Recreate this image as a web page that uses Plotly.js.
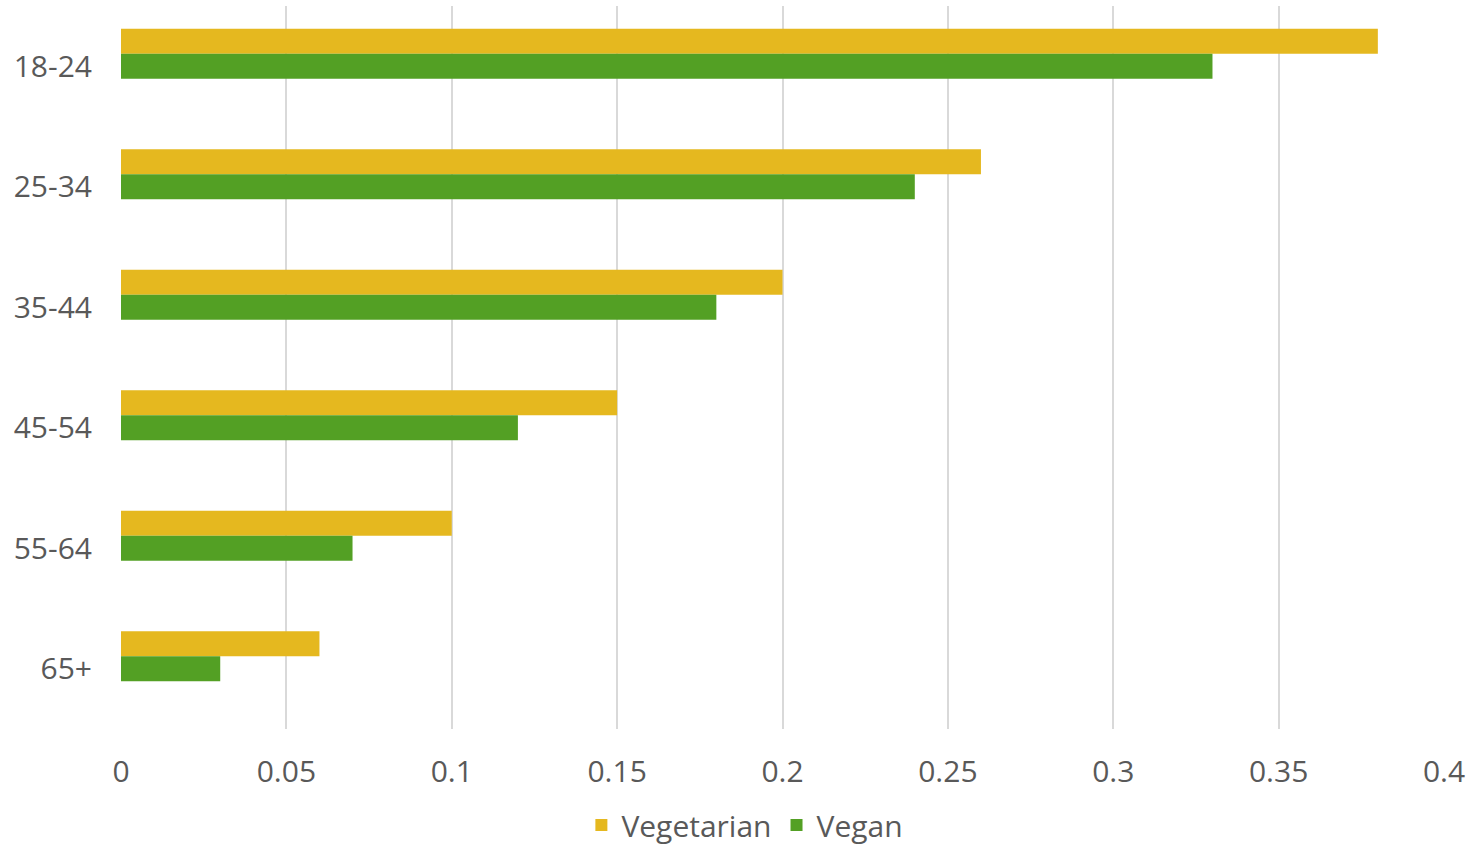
<!DOCTYPE html>
<html>
<head>
<meta charset="utf-8">
<script src="https://cdn.plot.ly/plotly-3.0.1.min.js"></script>
<style>
  html, body { margin: 0; padding: 0; background: #ffffff; }
  #chart { width: 1475px; height: 847px; }
</style>
</head>
<body>
<div id="chart"></div>
<script>
// Share of each age group following a meat-free diet
const ageGroups = ['18-24', '25-34', '35-44', '45-54', '55-64', '65+'];
const vegetarian = [0.38, 0.26, 0.20, 0.15, 0.10, 0.06];
const vegan = [0.33, 0.24, 0.18, 0.12, 0.07, 0.03];
const xTicks = [0, 0.05, 0.1, 0.15, 0.2, 0.25, 0.3, 0.35, 0.4];
const xTickLabels = ['0', '0.05', '0.1', '0.15', '0.2', '0.25', '0.3', '0.35', '0.4'];

const textColor = '#595959';
const fontFamily = '"Open Sans", "Noto Sans", sans-serif';

// Bars sit in slots of equal thickness, stacked from the top of each band,
// leaving the lowest slot of the band empty.
const slot = 0.2075;

const traces = [
  {
    type: 'bar',
    orientation: 'h',
    name: 'Vegetarian',
    y: ageGroups,
    x: vegetarian,
    width: slot,
    offset: -1.5 * slot,
    marker: { color: '#E5B81F' },
    hoverinfo: 'x+y'
  },
  {
    type: 'bar',
    orientation: 'h',
    name: 'Vegan',
    y: ageGroups,
    x: vegan,
    width: slot,
    offset: -0.5 * slot,
    marker: { color: '#53A024' },
    hoverinfo: 'x+y'
  }
];

const layout = {
  width: 1475,
  height: 847,
  margin: { l: 121, r: 31, t: 6, b: 118, autoexpand: false },
  paper_bgcolor: '#ffffff',
  plot_bgcolor: '#ffffff',
  barmode: 'overlay',
  font: { family: fontFamily, color: textColor, size: 30 },
  xaxis: {
    range: [0, 0.4],
    tickvals: xTicks,
    ticktext: xTickLabels,
    showgrid: true,
    gridcolor: '#d9d9d9',
    gridwidth: 2,
    zeroline: false,
    showline: false,
    ticks: 'outside',
    ticklen: 16,
    tickcolor: 'rgba(0,0,0,0)',
    tickfont: { size: 30, color: textColor },
    automargin: false,
    fixedrange: true
  },
  yaxis: {
    autorange: 'reversed',
    type: 'category',
    showgrid: false,
    zeroline: false,
    showline: false,
    ticks: 'outside',
    ticklen: 22,
    tickcolor: 'rgba(0,0,0,0)',
    tickfont: { size: 30, color: textColor },
    automargin: false,
    fixedrange: true
  },
  showlegend: true,
  legend: {
    orientation: 'h',
    x: 0.505,
    xref: 'container',
    xanchor: 'center',
    y: 0.026,
    yref: 'container',
    yanchor: 'middle',
    font: { size: 30, color: textColor },
    itemwidth: 30,
    tracegroupgap: 0
  }
};

Plotly.newPlot('chart', traces, layout, { displayModeBar: false, staticPlot: true });
</script>
</body>
</html>
